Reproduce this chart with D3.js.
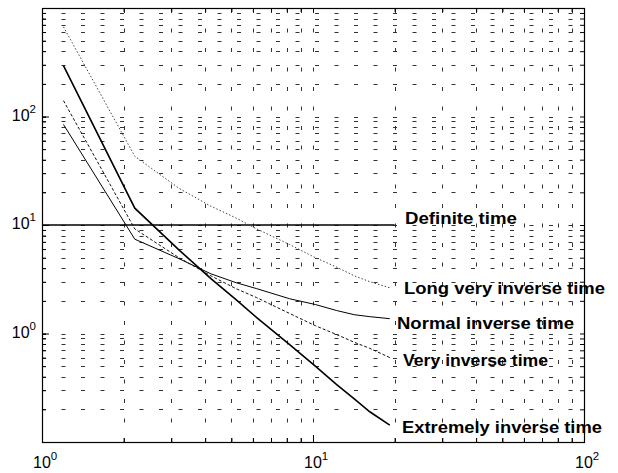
<!DOCTYPE html>
<html>
<head>
<meta charset="utf-8">
<script src="https://cdn.jsdelivr.net/npm/d3@7"></script>
<style>
  html, body { margin: 0; padding: 0; background: #fff; }
  svg { display: block; }
</style>
</head>
<body>
<svg id="chart" width="618" height="473"></svg>
<script>
// Relay operating time (s) against current multiple (I/Is), log-log.
const currentMultiples = [1.2, 2.2, 3.2, 4.2, 5.2, 6.2, 8.2, 10.2, 12.2, 14.2, 16.2, 19.2];
const longVeryInverse  = [670, 43, 21.8, 14.9, 11.6, 9.2, 6.6, 5.0, 4.1, 3.4, 3.0, 2.64];
const extremelyInverse = [294, 14.3, 5.9, 3.2, 2.05, 1.40, 0.79, 0.50, 0.34, 0.25, 0.19, 0.143];
const veryInverse      = [140, 9.2, 5.0, 3.4, 2.59, 2.14, 1.53, 1.18, 0.98, 0.83, 0.73, 0.60];
const normalInverse    = [84.5, 7.4, 4.9, 3.55, 2.94, 2.59, 2.09, 1.85, 1.63, 1.49, 1.43, 1.37];
const definiteMultiples = [1, 20];
const definiteTime      = [10, 10];

const curveNames = ["Definite time", "Long very inverse time", "Normal inverse time",
                    "Very inverse time", "Extremely inverse time"];
const xTickValues = [1, 10, 100];
const yTickValues = [1, 10, 100];

const svg = d3.select("#chart");
const plotLeft = 42, plotRight = 584, plotTop = 8, plotBottom = 442;

const x = d3.scaleLog().domain([1, 100]).range([plotLeft, plotRight]);
const y = d3.scaleLog().domain([0.1, 1000]).range([plotBottom, plotTop]);

// minor positions (every k * 10^n)
const xMinor = [];
for (let e = 0; e < 2; e++) for (let k = 1; k <= 9; k++) xMinor.push(k * Math.pow(10, e));
xMinor.push(100);
const yMinor = [];
for (let e = -1; e < 3; e++) for (let k = 1; k <= 9; k++) yMinor.push(+(k * Math.pow(10, e)).toPrecision(3));
yMinor.push(1000);

// dotted grid
const grid = svg.append("g").attr("stroke", "#333").attr("stroke-width", 1).attr("fill", "none");
grid.selectAll("line.h").data(yMinor.filter(v => v > 0.1 && v < 1000)).join("line")
  .attr("class", "h")
  .attr("x1", plotLeft).attr("x2", plotRight)
  .attr("y1", d => Math.round(y(d)) + 0.5).attr("y2", d => Math.round(y(d)) + 0.5)
  .attr("stroke-dasharray", "4,15.5");
grid.selectAll("line.v").data(xMinor.filter(v => v > 1 && v < 100)).join("line")
  .attr("class", "v")
  .attr("x1", d => Math.round(x(d)) + 0.5).attr("x2", d => Math.round(x(d)) + 0.5)
  .attr("y1", plotBottom).attr("y2", plotTop)
  .attr("stroke-dasharray", "4,15.5");

// frame
svg.append("rect")
  .attr("x", plotLeft + 0.5).attr("y", plotTop + 0.5)
  .attr("width", plotRight - plotLeft).attr("height", plotBottom - plotTop)
  .attr("fill", "none").attr("stroke", "#000").attr("stroke-width", 1.2);

// inward ticks on all four sides
function tickAxis(gen, tx, ty, values, size) {
  svg.append("g").attr("transform", `translate(${tx},${ty})`)
    .call(gen.tickValues(values).tickSize(size).tickSizeOuter(0).tickFormat(() => ""))
    .call(g => g.select(".domain").remove())
    .call(g => g.selectAll("line").attr("stroke", "#000"));
}
tickAxis(d3.axisBottom(x), 0, plotBottom, xMinor, -4);
tickAxis(d3.axisTop(x), 0, plotTop, xMinor, -4);
tickAxis(d3.axisLeft(y), plotLeft, 0, yMinor, -4);
tickAxis(d3.axisRight(y), plotRight, 0, yMinor, -4);
tickAxis(d3.axisBottom(x), 0, plotBottom, xTickValues, -7);
tickAxis(d3.axisLeft(y), plotLeft, 0, yTickValues, -7);

// power-of-ten tick labels
const labelFont = "'Liberation Sans', Arial, Helvetica, sans-serif";
function powLabel(g, val) {
  const exp = Math.round(Math.log10(val));
  g.append("tspan").text("10");
  g.append("tspan").attr("dy", -8).attr("font-size", 11.5).text(exp);
}
svg.append("g").selectAll("text").data(xTickValues).join("text")
  .attr("x", d => x(d) - 9).attr("y", 468)
  .attr("font-family", labelFont).attr("font-size", 16).attr("fill", "#000")
  .each(function (d) { powLabel(d3.select(this), d); });
svg.append("g").selectAll("text").data(yTickValues).join("text")
  .attr("x", 36).attr("y", d => y(d) + 4)
  .attr("text-anchor", "end")
  .attr("font-family", labelFont).attr("font-size", 16).attr("fill", "#000")
  .each(function (d) { powLabel(d3.select(this), d); });

// curves
const line = d3.line().x(d => x(d[0])).y(d => y(d[1]));
const zipCurve = (xs, ys) => xs.map((v, i) => [v, ys[i]]);

const curves = [
  { pts: zipCurve(definiteMultiples, definiteTime), w: 1.6, dash: null, color: "#000" },
  { pts: zipCurve(currentMultiples, longVeryInverse), w: 1, dash: "1.5,2", color: "#444" },
  { pts: zipCurve(currentMultiples, normalInverse), w: 1, dash: null, color: "#000" },
  { pts: zipCurve(currentMultiples, veryInverse), w: 1, dash: "3,2", color: "#111" },
  { pts: zipCurve(currentMultiples, extremelyInverse), w: 1.6, dash: null, color: "#000" }
];
svg.append("g").attr("fill", "none").selectAll("path").data(curves).join("path")
  .attr("d", d => line(d.pts))
  .attr("stroke", d => d.color)
  .attr("stroke-width", d => d.w)
  .attr("stroke-dasharray", d => d.dash);

// curve names placed at the end of each curve
const namePlacement = [
  { x: 405, y: 224, w: 112 },
  { x: 404, y: 294, w: 201 },
  { x: 397, y: 329, w: 177 },
  { x: 403, y: 366, w: 145 },
  { x: 402, y: 433, w: 200 }
];
svg.append("g").selectAll("text").data(curveNames).join("text")
  .attr("x", (d, i) => namePlacement[i].x)
  .attr("y", (d, i) => namePlacement[i].y)
  .attr("textLength", (d, i) => namePlacement[i].w)
  .attr("lengthAdjust", "spacingAndGlyphs")
  .attr("font-family", labelFont)
  .attr("font-weight", "bold")
  .attr("font-size", 17)
  .attr("fill", "#000")
  .text(d => d);
</script>
</body>
</html>
